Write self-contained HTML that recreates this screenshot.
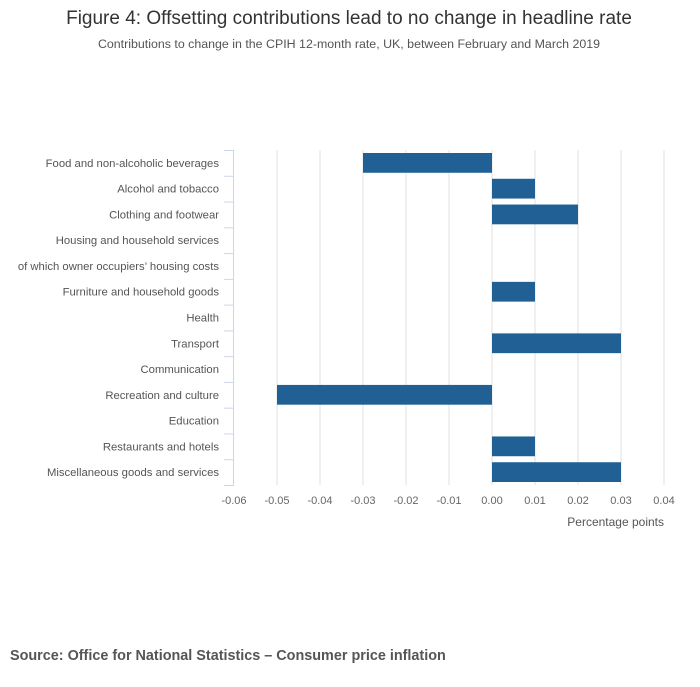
<!DOCTYPE html>
<html><head><meta charset="utf-8"><style>
body{margin:0;background:#fff;font-family:"Liberation Sans",sans-serif;}
</style></head><body>
<svg width="700" height="682" xmlns="http://www.w3.org/2000/svg" font-family="Liberation Sans, sans-serif">
<text x="349" y="24" text-anchor="middle" font-size="19" fill="#333">Figure 4: Offsetting contributions lead to no change in headline rate</text>
<text x="349" y="48" text-anchor="middle" font-size="12.4" fill="#555">Contributions to change in the CPIH 12-month rate, UK, between February and March 2019</text>
<g id="plot"></g>
<text x="664" y="526" text-anchor="end" font-size="12" fill="#555">Percentage points</text>
<text x="10" y="660" font-size="14.4" font-weight="bold" fill="#555">Source: Office for National Statistics – Consumer price inflation</text>
</svg>
<script>
const categories=["Food and non-alcoholic beverages","Alcohol and tobacco","Clothing and footwear","Housing and household services","of which owner occupiers’ housing costs","Furniture and household goods","Health","Transport","Communication","Recreation and culture","Education","Restaurants and hotels","Miscellaneous goods and services"];
const values=[-0.03,0.01,0.02,0,0,0.01,0,0.03,0,-0.05,0,0.01,0.03];
const ticks=[-0.06,-0.05,-0.04,-0.03,-0.02,-0.01,0,0.01,0.02,0.03,0.04];
const xMin=-0.06,xMax=0.04,L=234,R=664,T=150,B=485;
const NS="http://www.w3.org/2000/svg";
const g=document.getElementById('plot');
const x=v=>L+(v-xMin)/(xMax-xMin)*(R-L);
const band=(B-T)/categories.length;
const y=i=>T+i*band;
function mk(t,a){const e=document.createElementNS(NS,t);for(const k in a)e.setAttribute(k,a[k]);g.appendChild(e);return e;}
ticks.forEach(t=>{
 if(t!==xMin){const l=mk('line',{x1:x(t),x2:x(t),y1:T,y2:B,stroke:'#e0e0e0'});
 
 }
 const tx=mk('text',{x:x(t),y:504,'text-anchor':'middle','font-size':11,fill:'#666'});
 tx.textContent=t.toFixed(2);
 
 
});
const ax=mk('line',{x1:233.5,x2:233.5,y1:T,y2:B,stroke:'#ccd6eb'});


for(let i=0;i<=categories.length;i++){
 const tk=mk('line',{x1:224,x2:234,y1:y(i)+0.5,y2:y(i)+0.5,stroke:'#ccd6eb'});
 
 
}
categories.forEach((c,i)=>{
 const tx=mk('text',{x:219,y:y(i)+band/2+4,'text-anchor':'end','font-size':11.3,fill:'#555'});
 tx.textContent=c;
 
 
 const v=values[i];
 if(v!==0){
  const r=mk('rect',{x:Math.min(x(0),x(v)),y:y(i)+3,width:Math.abs(x(v)-x(0)),height:band-6,fill:'#206095'});
  
  
 }
});
</script>
</body></html>
